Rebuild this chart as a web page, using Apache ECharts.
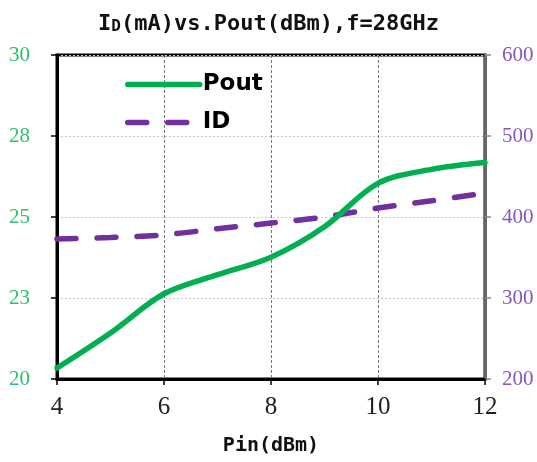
<!DOCTYPE html>
<html>
<head>
<meta charset="utf-8">
<script src="https://cdn.jsdelivr.net/npm/echarts@6/dist/echarts.min.js"></script>
<style>html,body{margin:0;padding:0;background:#fff;}#c{width:537px;height:462px;}</style>
</head>
<body>
<div id="c"></div>
<script>
var pin = [4, 5, 6, 7, 8, 9, 10, 11, 12];
var pout = [20.34, 21.42, 22.63, 23.22, 23.76, 24.7, 26.04, 26.47, 26.68];
var idmA = [372.8, 374.8, 378, 385.5, 392.5, 400, 411, 420, 429.5];

var chart = echarts.init(document.getElementById('c'));
chart.setOption({
  animation: false,
  backgroundColor: '#fff',
  title: {
    text: '{a|I}{b|D}(mA)vs.Pout(dBm),f=28GHz',
    left: 'center',
    top: 8,
    textStyle: {
      fontFamily: 'DejaVu Sans Mono',
      fontSize: 22,
      fontWeight: 'bold',
      color: '#111',
      rich: {
        a: {fontFamily: 'DejaVu Sans Mono', fontSize: 22, fontWeight: 'bold', color: '#111'},
        b: {fontFamily: 'DejaVu Sans Mono', fontSize: 16, fontWeight: 'bold', color: '#111', padding: [5, 0, 0, 0]}
      }
    }
  },
  legend: {
    orient: 'vertical',
    left: 120,
    top: 68,
    itemWidth: 72,
    itemHeight: 14,
    itemGap: 15,
    itemStyle: {opacity: 0},
    lineStyle: {width: 5.5},
    textStyle: {fontFamily: 'DejaVu Sans', fontSize: 23, fontWeight: 'bold', color: '#000', padding: [0, 0, 0, -2]},
    data: ['Pout', 'ID']
  },
  grid: {
    left: 57, right: 52, top: 55, bottom: 83,
    containLabel: false, outerBoundsMode: 'none',
    show: true, borderColor: '#000', borderWidth: 3
  },
  xAxis: {
    type: 'value', min: 4, max: 12, interval: 2,
    name: 'Pin(dBm)', nameLocation: 'middle', nameGap: 57,
    nameTextStyle: {fontFamily: 'DejaVu Sans Mono', fontSize: 20, fontWeight: 'bold', color: '#111'},
    axisLine: {show: true, lineStyle: {color: '#000', width: 3}},
    axisTick: {show: true, inside: false, length: 6, lineStyle: {color: '#000', width: 1.5}},
    axisLabel: {margin: 16, fontFamily: 'Liberation Serif', fontSize: 25, color: '#222'},
    splitLine: {show: true, lineStyle: {color: '#777', type: [3, 2], width: 1}}
  },
  yAxis: [{
    type: 'value', min: 20, max: 30, interval: 2.5, position: 'left',
    axisLine: {show: true, lineStyle: {color: '#000', width: 3}},
    axisTick: {show: true, length: 6, lineStyle: {color: '#000', width: 1.5}},
    axisLabel: {margin: 27, fontFamily: 'Liberation Serif', fontSize: 21, color: '#2ec06e',
      formatter: function (v) { return String(Math.round(v)); }},
    splitLine: {show: true, lineStyle: {color: '#c8c8c8', type: [2, 2], width: 1}}
  }, {
    type: 'value', min: 200, max: 600, interval: 100, position: 'right',
    axisLine: {show: true, lineStyle: {color: '#666', width: 3}},
    axisTick: {show: true, length: 6, lineStyle: {color: '#888', width: 1.5}},
    axisLabel: {margin: 17, fontFamily: 'Liberation Serif', fontSize: 21, color: '#8a55bf'},
    splitLine: {show: false}
  }],
  series: [{
    name: 'Pout', type: 'line', yAxisIndex: 0, smooth: 0.33,
    showSymbol: false, symbol: 'none',
    data: pin.map(function (x, i) { return [x, pout[i]]; }),
    lineStyle: {color: '#00b050', width: 5.5, cap: 'round'},
    itemStyle: {color: '#00b050'}, z: 3
  }, {
    name: 'ID', type: 'line', yAxisIndex: 1, smooth: 0.33,
    showSymbol: false, symbol: 'none',
    data: pin.map(function (x, i) { return [x, idmA[i]]; }),
    lineStyle: {color: '#7030a0', width: 5.5, type: [19, 21], cap: 'round'},
    itemStyle: {color: '#7030a0'}, z: 2
  }]
});
</script>
</body>
</html>
